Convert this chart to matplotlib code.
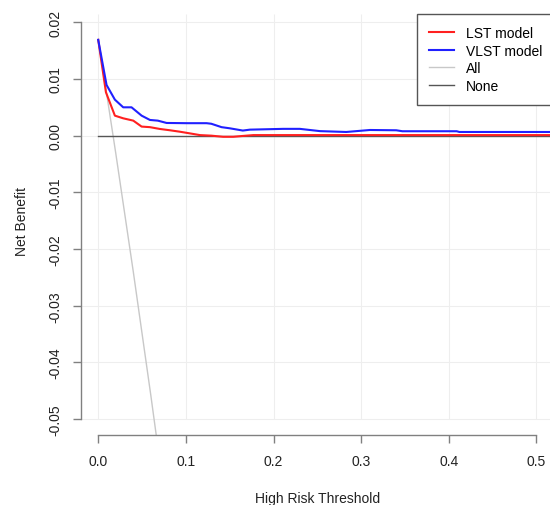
import matplotlib
matplotlib.use("Agg")
import matplotlib.pyplot as plt

plt.rcParams['font.family'] = ['Liberation Sans', 'DejaVu Sans']

# decision curve values
lst_x = [0.0, 0.0088, 0.019, 0.0285, 0.040, 0.0495, 0.059, 0.0704, 0.0818, 0.093,
         0.1046, 0.116, 0.129, 0.1425, 0.154, 0.165, 0.177, 0.21, 0.30, 0.40, 0.52]
lst_y = [0.0169, 0.00765, 0.00353, 0.00306, 0.00265, 0.0016, 0.0015, 0.00118, 0.00095, 0.0007,
         0.0004, 0.0001, 0.0, -0.0002, -0.0002, -0.00005, 0.0001, 0.0001, 0.0001, 0.0001, 0.0001]

vlst_x = [0.0, 0.0095, 0.019, 0.0285, 0.038, 0.0495, 0.059, 0.068, 0.078, 0.1008,
          0.1236, 0.129, 0.1407, 0.150, 0.165, 0.173, 0.211, 0.23, 0.253, 0.283,
          0.31, 0.340, 0.347, 0.409, 0.412, 0.52]
vlst_y = [0.0169, 0.00894, 0.00635, 0.0050, 0.0050, 0.00353, 0.00277, 0.00265, 0.00224, 0.0022,
          0.0022, 0.0021, 0.0015, 0.0013, 0.0009, 0.00106, 0.0012, 0.0012, 0.0008, 0.00065,
          0.001, 0.00095, 0.00078, 0.00078, 0.00065, 0.00065]

all_x = [0.0, 0.01, 0.02, 0.04, 0.06, 0.08]
all_y = [0.0169, 0.0070, -0.0031, -0.0240, -0.0458, -0.0685]

none_x = [0.0, 0.52]
none_y = [0.0, 0.0]

xticks = [0.0, 0.1, 0.2, 0.3, 0.4, 0.5]
yticks = [0.02, 0.01, 0.00, -0.01, -0.02, -0.03, -0.04, -0.05]

W, H = 550, 506
fig = plt.figure(figsize=(W / 100, H / 100), dpi=100)
left, right, top, bottom = 80.7, 554, 7.4, 436
ax = fig.add_axes([left / W, 1 - bottom / H, (right - left) / W, (bottom - top) / H])
ax.set_xlim(-0.02, 0.52)
ax.set_ylim(-0.0528, 0.0228)

# light grid at tick positions
ax.vlines(xticks, -0.05, 0.0215, color='#eeeeee', lw=0.8, zorder=0)
ax.hlines(yticks, -0.02, 0.52, color='#eeeeee', lw=0.8, zorder=0)

ax.plot(all_x, all_y, color='#c8c8c8', lw=1.0, label='All')
ax.plot(none_x, none_y, color='#555555', lw=1.0, label='None')
ax.plot(lst_x, lst_y, color='#ff2020', lw=1.5, label='LST model')
ax.plot(vlst_x, vlst_y, color='#2020ff', lw=1.5, label='VLST model')

for s in ['top', 'right']:
    ax.spines[s].set_visible(False)
ax.spines['left'].set_bounds(-0.05, 0.02)
ax.spines['bottom'].set_bounds(0.0, 0.5)
for s in ['left', 'bottom']:
    ax.spines[s].set_color('#808080')
    ax.spines[s].set_linewidth(1.0)

ax.set_xticks(xticks)
ax.set_xticklabels(['0.0', '0.1', '0.2', '0.3', '0.4', '0.5'])
ax.set_yticks(yticks)
ax.set_yticklabels(['0.02', '0.01', '0.00', '-0.01', '-0.02', '-0.03', '-0.04', '-0.05'],
                   rotation=90, va='center')
ax.tick_params(length=6, width=1.0, color='#808080', labelsize=10, labelcolor='#222222')
ax.tick_params(axis='x', pad=8)
ax.tick_params(axis='y', pad=7)

ax.set_xlabel('High Risk Threshold', fontsize=10, color='#222222', labelpad=16)
ax.set_ylabel('Net Benefit', fontsize=10, color='#222222', labelpad=14)

h, l = ax.get_legend_handles_labels()
order = [2, 3, 0, 1]
leg = ax.legend([h[i] for i in order], [l[i] for i in order],
                loc='upper right', bbox_to_anchor=(554.5 / W, 1 - 15 / H),
                bbox_transform=fig.transFigure, borderaxespad=0,
                fancybox=False, edgecolor='#555555', framealpha=1,
                fontsize=10, handlelength=1.8, handletextpad=0.9,
                labelspacing=0.27, borderpad=0.85)
leg.get_frame().set_linewidth(1.0)

fig.savefig('out.png', dpi=100)
